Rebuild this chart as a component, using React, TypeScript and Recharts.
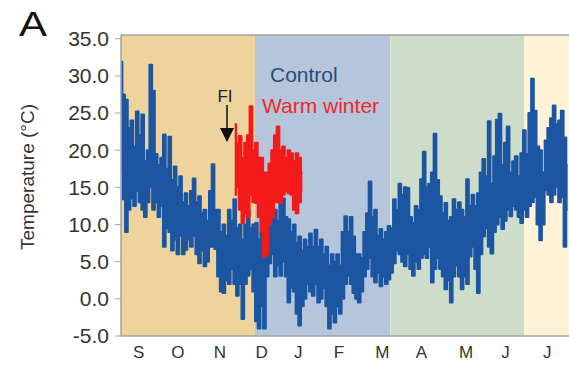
import { ComposedChart, Area, XAxis, YAxis, ReferenceArea, ReferenceLine } from "recharts";

// x is a day index from the left edge of the plot (late Aug) to mid July
const monthLabels = ["S", "O", "N", "D", "J", "F", "M", "A", "M", "J", "J"];
const monthTicks = [13, 42, 73, 104, 131, 161, 193, 222, 255, 284, 315];
const yTicks = [-5, 0, 5, 10, 15, 20, 25, 30, 35];

// season boundaries (autumn, winter, spring, summer)
const seasonEdges = [0, 99, 199, 298, 331];
const seasonColors = ["#EED39C", "#B5C5DB", "#CDDDC9", "#FEF3D6"];

// control: max / min temperature for each 2-day slot
const controlHigh = [
  31.9, 27.5, 26.8, 23.0, 24.0, 20.5, 25.2, 22.0, 24.8, 18.5,
  20.0, 31.5, 28.0, 19.5, 18.0, 19.0, 22.1, 17.5, 21.8, 16.0,
  17.8, 15.0, 16.5, 13.0, 14.2, 12.5, 14.5, 16.2, 13.0, 13.8,
  11.5, 12.0, 10.5, 14.5, 18.1, 12.0, 12.0, 9.0, 10.0, 8.5,
  12.0, 10.5, 13.4, 9.5, 10.0, 8.0, 10.0, 12.0, 9.5, 10.0,
  10.2, 8.0, 9.0, 8.0, 12.0, 13.4, 11.0, 12.0, 10.5, 13.8,
  13.5, 11.0, 10.7, 9.0, 10.0, 7.5, 8.4, 6.5, 8.0, 7.0,
  8.8, 7.0, 9.3, 7.0, 8.0, 6.0, 7.0, 4.5, 6.0, 5.0,
  6.0, 4.5, 9.0, 11.1, 9.0, 11.0, 8.4, 6.0, 6.0, 5.5,
  9.0, 11.5, 15.8, 11.0, 12.0, 8.5, 9.4, 8.0, 9.0, 9.8,
  9.5, 13.4, 12.0, 15.5, 14.0, 15.0, 14.9, 11.0, 10.2, 12.5,
  12.0, 16.1, 19.8, 15.0, 15.5, 17.0, 22.2, 16.0, 13.8, 11.5,
  12.9, 10.5, 11.0, 13.4, 12.0, 13.0, 12.0, 11.0, 16.1, 12.5,
  14.0, 12.5, 14.2, 17.0, 18.8, 16.5, 23.9, 15.5, 19.2, 24.1,
  24.9, 18.0, 21.0, 23.2, 17.0, 18.5, 19.2, 16.5, 19.6, 22.7,
  19.5, 25.0, 29.6, 25.3, 20.5, 20.0, 17.0, 21.3, 23.0, 24.3,
  26.0, 23.5, 24.0, 25.3, 21.7, 18.0,
];
const controlLow = [
  17.0, 13.4, 9.0, 12.0, 13.5, 12.5, 14.5, 13.0, 12.0, 11.0,
  13.0, 15.0, 12.0, 13.0, 11.0, 12.5, 7.0, 9.5, 9.0, 6.5,
  8.0, 6.0, 8.5, 6.0, 6.6, 8.0, 7.0, 8.5, 6.0, 4.8,
  6.5, 4.4, 5.0, 7.0, 7.0, 6.7, 3.0, 1.0, 0.8, 2.5,
  2.0, 4.0, 2.0, 0.4, 2.0, -2.7, 2.0, 3.1, 4.0, 1.0,
  -3.0, -4.0, -1.0, -4.0, 3.0, 4.8, 6.0, 3.0, 4.5, 3.1,
  5.0, 3.0, -0.5, 1.5, 1.0, -2.0, -3.6, -1.0, 0.0, 2.0,
  1.0, 0.4, 2.0, -0.5, 0.0, 1.5, -1.0, -4.0, -2.0, -3.2,
  -1.0, -2.0, 0.0, 2.0, 3.1, 2.0, 0.8, 0.0, -0.5, 1.0,
  3.0, 4.0, 5.5, 3.0, 2.2, 3.5, 1.7, 3.0, 2.0, 2.6,
  3.5, 4.8, 6.5, 6.0, 5.0, 4.4, 6.0, 4.0, 3.1, 5.0,
  4.0, 5.5, 6.0, 5.5, 7.0, 2.2, 4.0, 5.5, 4.0, 3.0,
  1.3, 2.5, -0.5, 3.0, 4.5, 3.0, 1.3, 3.0, 2.0, 5.7,
  7.0, 4.0, 0.8, 6.0, 8.4, 9.5, 7.0, 6.1, 9.0, 10.0,
  11.0, 9.4, 10.5, 12.0, 11.1, 12.5, 12.0, 11.0, 10.2, 12.0,
  11.0, 12.5, 13.0, 13.7, 10.0, 7.9, 10.0, 14.6, 14.0, 13.0,
  14.0, 15.0, 13.0, 13.7, 7.0, 12.0,
];

// warm winter treatment, starts at the FI arrow (slot 42)
const warmStart = 42;
const warmHigh = [
  23.5, 21.0, 21.9, 19.0, 21.0, 22.0, 25.9, 20.0, 21.0, 19.0,
  19.0, 17.0, 17.0, 18.2, 20.0, 22.0, 23.2, 20.0, 20.5, 19.0,
  20.0, 19.6, 18.5, 19.6, 19.0, 17.0,
];
const warmLow = [
  14.0, 15.0, 12.0, 10.2, 11.5, 11.0, 14.0, 13.0, 12.9, 11.0,
  9.0, 5.7, 6.0, 10.0, 11.0, 13.0, 13.0, 12.9, 14.0, 14.5,
  14.2, 14.0, 12.0, 11.5, 13.0, 14.5,
];

const data = controlHigh.map((hi, i) => {
  const w = i - warmStart;
  return {
    day: i * 2,
    control: [controlLow[i], hi],
    warm: w >= 0 && w < warmHigh.length ? [warmLow[w], warmHigh[w]] : undefined,
  };
});

const font = "'Liberation Sans', Arial, sans-serif";
const axisGray = "#A3A3A3";
const blue = "#1C56A2";
const red = "#F41A1A";

export default function App() {
  return (
    <div style={{ position: "relative", width: 569, height: 366, fontFamily: font }}>
      <style>{"body{margin:0}"}</style>
      <ComposedChart width={569} height={366} data={data} margin={{ top: 35, right: 0, bottom: 0, left: 0 }}>
        {seasonColors.map((c, i) => (
          <ReferenceArea
            key={i}
            x1={seasonEdges[i]}
            x2={seasonEdges[i + 1]}
            fill={c}
            fillOpacity={1}
            stroke="none"
          />
        ))}
        <ReferenceLine y={35.5} stroke={axisGray} strokeWidth={1.5} />
        <XAxis
          type="number"
          dataKey="day"
          domain={[0, 331]}
          allowDataOverflow
          ticks={monthTicks}
          interval={0}
          tickFormatter={(v) => monthLabels[monthTicks.indexOf(v)]}
          tickLine={false}
          tickMargin={4}
          axisLine={{ stroke: axisGray, strokeWidth: 1.5 }}
          tick={{ fontSize: 17, fill: "#333", fontFamily: font }}
          height={30}
        />
        <YAxis
          domain={[-5, 35.5]}
          allowDataOverflow
          ticks={yTicks}
          interval={0}
          tickFormatter={(v) => v.toFixed(1)}
          width={121}
          tickSize={6}
          tickMargin={6}
          tickLine={{ stroke: axisGray }}
          axisLine={{ stroke: axisGray, strokeWidth: 1.5 }}
          tick={{ fontSize: 21, fill: "#333", fontFamily: font }}
        />
        <Area
          type="step"
          dataKey="control"
          stroke={blue}
          strokeWidth={2}
          strokeLinejoin="round"
          fill={blue}
          fillOpacity={1}
          dot={false}
          activeDot={false}
          isAnimationActive={false}
        />
        <Area
          type="step"
          dataKey="warm"
          stroke={red}
          strokeWidth={2}
          strokeLinejoin="round"
          fill={red}
          fillOpacity={1}
          dot={false}
          activeDot={false}
          isAnimationActive={false}
        />
      </ComposedChart>
      <svg
        width={569}
        height={366}
        style={{ position: "absolute", left: 0, top: 0, pointerEvents: "none", fontFamily: font }}
      >
        <text x={19} y={36} fontSize={35} fill="#111" textLength={28} lengthAdjust="spacingAndGlyphs">A</text>
        <text
          transform="translate(34,177) rotate(-90)"
          textAnchor="middle"
          fontSize={19}
          fill="#333"
        >
          Temperature (°C)
        </text>
        <text x={270} y={82} fontSize={21} fill="#2E4B78">Control</text>
        <text x={262} y={113} fontSize={21} fill="#EE2A2A">Warm winter</text>
        <text x={225} y={102} fontSize={17} fill="#222" textAnchor="middle">FI</text>
        <line x1={227} y1={105} x2={227} y2={130} stroke="#111" strokeWidth={1.5} />
        <polygon points="220,128 234,128 227,142" fill="#111" />
      </svg>
    </div>
  );
}
